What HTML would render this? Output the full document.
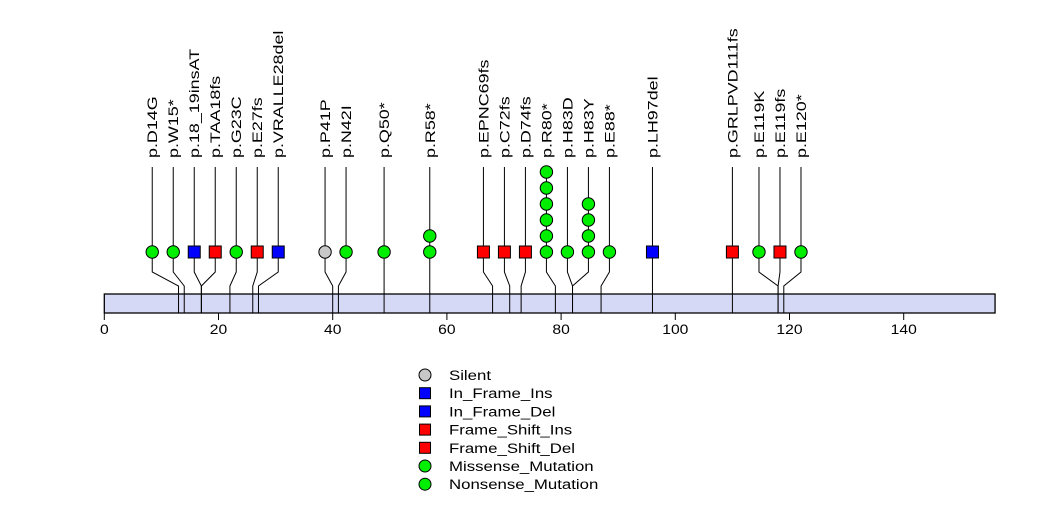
<!DOCTYPE html>
<html><head><meta charset="utf-8"><style>
html,body{margin:0;padding:0;background:#fff}
svg{display:block}
text{font-family:"Liberation Sans",sans-serif}
</style></head><body>
<svg id="chart" width="1047" height="524" viewBox="0 0 1047 524" xmlns="http://www.w3.org/2000/svg"></svg>
<script>
const labels=["p.D14G","p.W15*","p.18_19insAT","p.TAA18fs","p.G23C","p.E27fs","p.VRALLE28del","p.P41P","p.N42I","p.Q50*","p.R58*","p.EPNC69fs","p.C72fs","p.D74fs","p.R80*","p.H83D","p.H83Y","p.E88*","p.LH97del","p.GRLPVD111fs","p.E119K","p.E119fs","p.E120*"];
const positions=[13,14,17,17,22,26,27,40,41,49,57,68,71,73,79,82,82,87,96,110,118,118,119];
const counts=[1,1,1,1,1,1,1,1,1,1,2,1,1,1,6,1,4,1,1,1,1,1,1];
const types=["Missense","Nonsense","In_Frame_Ins","Frame_Shift_Ins","Missense","Frame_Shift_Del","In_Frame_Del","Silent","Missense","Nonsense","Nonsense","Frame_Shift_Del","Frame_Shift_Del","Frame_Shift_Del","Nonsense","Missense","Missense","Nonsense","In_Frame_Del","Frame_Shift_Del","Missense","Frame_Shift_Del","Nonsense"];
const axisTicks=[0,20,40,60,80,100,120,140];
const proteinLength=156;
const legendNames=["Silent","In_Frame_Ins","In_Frame_Del","Frame_Shift_Ins","Frame_Shift_Del","Missense_Mutation","Nonsense_Mutation"];

const NS="http://www.w3.org/2000/svg";
const svg=document.getElementById('chart');
const x0=104.3,k=5.71;
const X=v=>x0+v*k;
const barTop=294,barBot=313,rowY=252,step=16;
function el(t,a,p){const e=document.createElementNS(NS,t);for(const n in a)e.setAttribute(n,a[n]);(p||svg).appendChild(e);return e;}
function colorOf(t){if(t==="Silent")return"#c8c8c8";if(t.startsWith("In_Frame"))return"#0000ff";if(t.startsWith("Frame_Shift"))return"#ff0000";return"#00ee00";}
function isSq(t){return t.startsWith("In_Frame")||t.startsWith("Frame_Shift");}

const gap=21;
let clusters=positions.map((p,i)=>({idx:[i],c:X(p)}));
let changed=true;
while(changed){changed=false;
 for(let i=0;i<clusters.length-1;i++){
  const a=clusters[i],b=clusters[i+1];
  const aEnd=a.c+(a.idx.length-1)*gap/2,bStart=b.c-(b.idx.length-1)*gap/2;
  if(bStart-aEnd<gap-0.01){
   const idx=a.idx.concat(b.idx);
   const c=idx.reduce((s,j)=>s+X(positions[j]),0)/idx.length;
   clusters.splice(i,2,{idx,c});changed=true;break;}
 }}
const disp=[];
clusters.forEach(cl=>{const n=cl.idx.length;cl.idx.forEach((j,m)=>disp[j]=cl.c+(m-(n-1)/2)*gap);});

const bar=el('rect',{x:X(0),y:barTop,width:proteinLength*k,height:barBot-barTop,fill:"#d6d9f5",stroke:"#000","stroke-width":1.3});


axisTicks.forEach(t=>{
 const g=el('g',{});
 
 
 el('line',{x1:X(t),x2:X(t),y1:barBot,y2:320,stroke:"#000","stroke-width":1},g);
 const tx=el('text',{x:0,y:0,"text-anchor":"middle","font-size":14,transform:`translate(${X(t)},334) scale(1.12,1)`},g);tx.textContent=t;
});
positions.forEach((p,i)=>{
 const g=el('g',{});
 
 
 const ax=X(p),dx=disp[i];
 el('polyline',{points:`${ax},${barBot} ${ax},286 ${dx},272 ${dx},${rowY}`,fill:"none",stroke:"#000","stroke-width":1},g);
 el('line',{x1:dx,x2:dx,y1:167,y2:rowY,stroke:"#000","stroke-width":1},g);
 const col=colorOf(types[i]);
 for(let c=counts[i]-1;c>=0;c--){
  const y=rowY-c*step;
  if(isSq(types[i]))el('rect',{x:dx-6,y:y-6,width:12,height:12,fill:col,stroke:"#000","stroke-width":1},g);
  else el('circle',{cx:dx,cy:y,r:6.2,fill:col,stroke:"#000","stroke-width":1},g);
 }
 const t=el('text',{x:0,y:0,"font-size":14,transform:`translate(${dx+5},158) rotate(-90) scale(1.28,1)`},g);
 t.textContent=labels[i];
});
legendNames.forEach((n,i)=>{
 const g=el('g',{});
 
 
 const y=375+i*18.2,col=colorOf(n);
 if(isSq(n))el('rect',{x:419.5,y:y-5.5,width:11,height:11,fill:col,stroke:"#000","stroke-width":1},g);
 else el('circle',{cx:425,cy:y,r:6,fill:col,stroke:"#000","stroke-width":1},g);
 const t=el('text',{x:0,y:0,"font-size":14,transform:`translate(449,${y+5}) scale(1.2,1)`},g);t.textContent=n;
});
</script>
</body></html>
